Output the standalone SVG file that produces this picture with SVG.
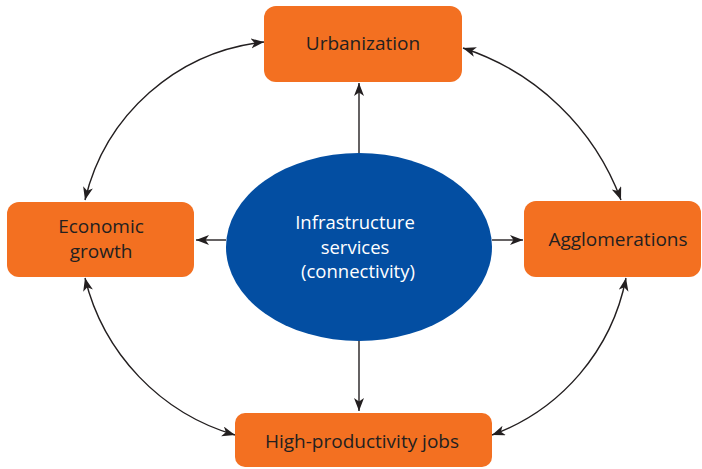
<svg xmlns="http://www.w3.org/2000/svg" width="702" height="469" viewBox="0 0 702 469">
  <defs>
    <style>
      .box { fill: #f37021; }
      .hub { fill: #034ea2; }
      .lbl { font-family: "Open Sans", "Liberation Sans", sans-serif; font-size: 19px; fill: #231f20; text-anchor: middle; }
      .hub-lbl { font-family: "Open Sans", "Liberation Sans", sans-serif; font-size: 18.5px; fill: #ffffff; text-anchor: middle; }
      .link { fill: none; stroke: #231f20; stroke-width: 1.4; }
      .one { marker-end: url(#head); }
      .two { marker-start: url(#head); marker-end: url(#head); }
    </style>
    <marker id="head" markerUnits="userSpaceOnUse" markerWidth="14" markerHeight="11" refX="13" refY="5" orient="auto-start-reverse">
      <path d="M0,0 L13,5 L0,10 L3.5,5 Z" fill="#231f20"/>
    </marker>
  </defs>

  <!-- connectors -->
  <g id="connectors">
    <!-- hub to the four outcomes -->
    <path class="link one" d="M359,153 L359,83"/>
    <path class="link one" d="M226,240 L196,240"/>
    <path class="link one" d="M492,240 L523,240"/>
    <path class="link one" d="M359,341 L359,411"/>
    <!-- two-way links between outcomes -->
    <path class="link two" d="M264,42 A207,207 0 0 0 85,200"/>
    <path class="link two" d="M463,48 A252,252 0 0 1 621,200"/>
    <path class="link two" d="M85,278 A217,217 0 0 0 235,435"/>
    <path class="link two" d="M626,278 A210,210 0 0 1 492,435"/>
  </g>

  <g id="hub">
    <ellipse class="hub" cx="359" cy="247" rx="133" ry="94"/>
    <text class="hub-lbl" x="355" y="229">Infrastructure</text>
    <text class="hub-lbl" x="355" y="254">services</text>
    <text class="hub-lbl" x="358" y="278">(connectivity)</text>
  </g>

  <g id="urbanization">
    <rect class="box" x="264" y="6" width="198" height="76" rx="12"/>
    <text class="lbl" x="363" y="50">Urbanization</text>
  </g>

  <g id="economic-growth">
    <rect class="box" x="7" y="202" width="187" height="75" rx="12"/>
    <text class="lbl" x="101" y="233">Economic</text>
    <text class="lbl" x="101" y="258">growth</text>
  </g>

  <g id="agglomerations">
    <rect class="box" x="524" y="201" width="177" height="76" rx="12"/>
    <text class="lbl" x="618" y="246">Agglomerations</text>
  </g>

  <g id="high-productivity-jobs">
    <rect class="box" x="235" y="413" width="257" height="54" rx="10"/>
    <text class="lbl" x="362" y="448">High-productivity jobs</text>
  </g>
</svg>
